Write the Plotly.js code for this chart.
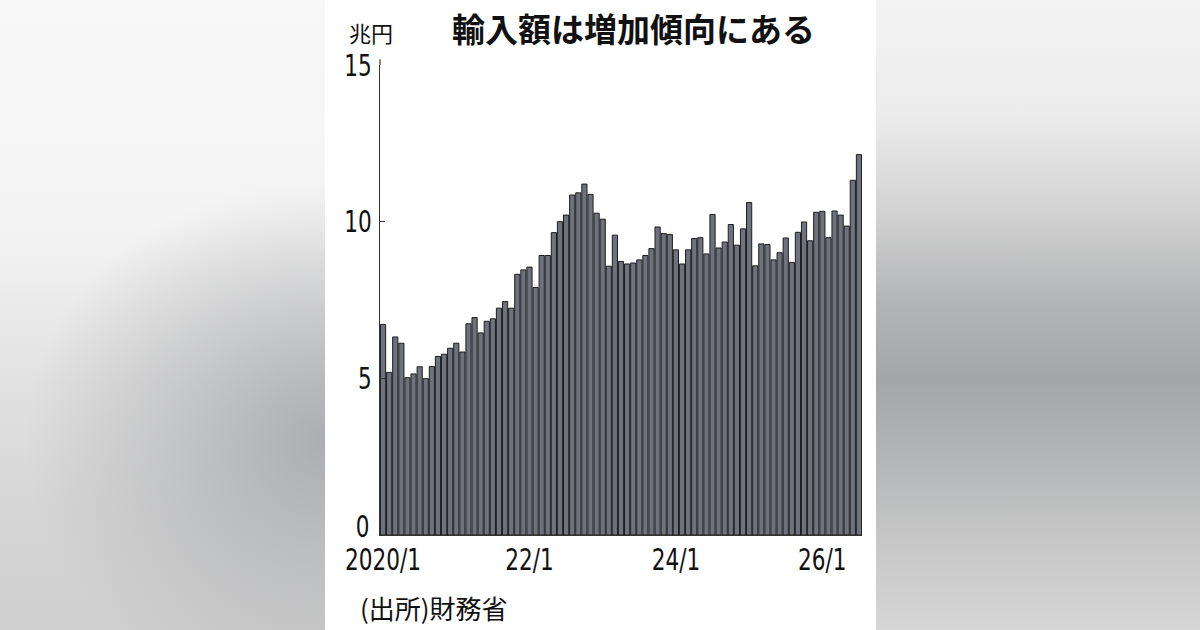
<!DOCTYPE html>
<html>
<head>
<meta charset="utf-8">
<script src="https://cdn.plot.ly/plotly-3.0.1.min.js"></script>
<style>
  html, body { margin: 0; padding: 0; }
  body { width: 1200px; height: 630px; position: relative; overflow: hidden; background: #ffffff; }
  #bgL { position: absolute; left: 0; top: 0; width: 325px; height: 630px;
    background:
      radial-gradient(ellipse 300px 260px at 100% 70%, rgba(170,171,174,0.95) 0%, rgba(170,171,174,0.0) 100%),
      linear-gradient(to bottom, #f8f8f8 0%, #f4f4f4 35%, #e2e2e2 60%, #d6d6d6 80%, #cfcfcf 100%); }
  #bgR { position: absolute; left: 876px; top: 0; width: 324px; height: 630px;
    background: linear-gradient(to bottom, #f3f3f3 0%, #ececec 18%, #d0d0d0 35%, #b3b4b6 48%, #a5a6a8 60%, #b3b4b6 72%, #c6c6c6 85%, #d6d6d6 100%); }
  #panel { position: absolute; left: 325px; top: 0; width: 551px; height: 630px; background: #ffffff; }
  #chart { position: absolute; left: 0; top: 0; width: 1200px; height: 630px; }
</style>
</head>
<body>
<div id="bgL"></div>
<div id="bgR"></div>
<div id="panel"></div>
<div id="chart"></div>
<script>
// Monthly import value (trillion yen), 2020/1 onward
const values2020 = [6.72, 5.19, 6.32, 6.12, 5.02, 5.14, 5.37, 4.99, 5.38, 5.70, 5.77, 5.96];
const values2021 = [6.12, 5.84, 6.74, 6.94, 6.45, 6.82, 6.90, 7.24, 7.45, 7.24, 8.32, 8.46];
const values2022 = [8.55, 7.90, 8.92, 8.92, 9.65, 10.00, 10.21, 10.85, 10.92, 11.20, 10.87, 10.27];
const values2023 = [10.08, 8.58, 9.57, 8.73, 8.65, 8.68, 8.78, 8.92, 9.14, 9.83, 9.62, 9.59];
const values2024 = [9.10, 8.65, 9.10, 9.46, 9.49, 8.97, 10.23, 9.16, 9.35, 9.91, 9.25, 9.77];
const values2025 = [10.61, 8.59, 9.29, 9.27, 8.78, 9.01, 9.48, 8.70, 9.66, 9.99, 9.39, 10.30];
const values2026 = [10.33, 9.49, 10.34, 10.21, 9.86, 11.32, 12.14];

const years = [2020, 2021, 2022, 2023, 2024, 2025, 2026];
const yearValues = [values2020, values2021, values2022, values2023, values2024, values2025, values2026];

const tickVals = ['2020/1', '2022/1', '2024/1', '2026/1'];
const tickText = ['2020/1', '22/1', '24/1', '26/1'];
const yTickVals = [0, 5, 10, 15];
const yTickText = ['', '5', '10', '15'];

const months = [];
const values = [];
yearValues.forEach((arr, i) => {
  arr.forEach((v, m) => { months.push(years[i] + '/' + (m + 1)); values.push(v); });
});

const numFont = '"DejaVu Sans Condensed", "Liberation Sans Narrow", sans-serif';
const jpFont = '"Noto Sans CJK JP", "Noto Sans CJK SC", sans-serif';

const trace = {
  type: 'bar',
  x: months,
  y: values,
  marker: { color: '#6e727c', line: { color: '#1e1e1e', width: 1 } },
  hoverinfo: 'x+y'
};

const layout = {
  width: 1200, height: 630,
  margin: { l: 380, r: 338, t: 65, b: 95 },
  paper_bgcolor: 'rgba(0,0,0,0)',
  plot_bgcolor: 'rgba(0,0,0,0)',
  bargap: 0.15,
  showlegend: false,
  xaxis: {
    type: 'category',
    range: [-0.5, months.length - 0.5],
    showline: true, linecolor: '#333', linewidth: 1.2,
    showgrid: false, zeroline: false, ticks: '',
    tickvals: tickVals, ticktext: tickText,
    tickangle: 0,
    ticklabelstandoff: -2,
    tickfont: { family: numFont, size: 30, color: '#111' },
    fixedrange: true
  },
  yaxis: {
    range: [0, 15],
    showline: true, linecolor: '#333', linewidth: 1.2,
    showgrid: false, zeroline: false,
    ticks: 'inside', ticklen: 5, tickcolor: '#333', tickwidth: 1.2,
    tickvals: yTickVals, ticktext: yTickText,
    ticklabelstandoff: 1,
    tickfont: { family: numFont, size: 30, color: '#111' },
    fixedrange: true
  },
  shapes: [
    { type: 'line', xref: 'paper', yref: 'paper', x0: 0, x1: 0, y0: 1, y1: 1.012,
      line: { color: '#333', width: 1.2 } }
  ],
  annotations: [
    { xref: 'paper', yref: 'paper', x: (633 - 380) / 482, y: 1 + (65 - 28) / 470, xanchor: 'center', yanchor: 'middle',
      text: '<b>輸入額は増加傾向にある</b>', showarrow: false,
      font: { family: jpFont, size: 33, color: '#111' } },
    { xref: 'paper', yref: 'paper', x: (347 - 380) / 482, y: 1 + (65 - 32) / 470, xanchor: 'left', yanchor: 'middle',
      text: '兆円', showarrow: false,
      font: { family: jpFont, size: 22, color: '#111' } },
    { xref: 'paper', yref: 'y', x: (373 - 380) / 482, y: 0, xanchor: 'right', yanchor: 'middle', yshift: 9,
      text: '0', showarrow: false,
      font: { family: numFont, size: 30, color: '#111' } },
    { xref: 'paper', yref: 'paper', x: (358 - 380) / 482, y: -(607 - 535) / 470, xanchor: 'left', yanchor: 'middle',
      text: '(出所)財務省', showarrow: false,
      font: { family: jpFont, size: 26, color: '#111' } }
  ]
};

Plotly.newPlot('chart', [trace], layout, { staticPlot: true, displayModeBar: false }).then(() => {
  // condense numeric labels to match the narrow figure font
  const nodes = document.querySelectorAll('#chart .xtick text, #chart .ytick text, #chart .annotation-text');
  nodes.forEach(t => {
    const s = t.textContent;
    if (!/^[0-9\/]+$/.test(s)) return;
    const L = t.getComputedTextLength();
    if (L > 0) {
      t.setAttribute('textLength', (L * 0.8).toFixed(1));
      t.setAttribute('lengthAdjust', 'spacingAndGlyphs');
    }
  });
});
</script>
</body>
</html>
